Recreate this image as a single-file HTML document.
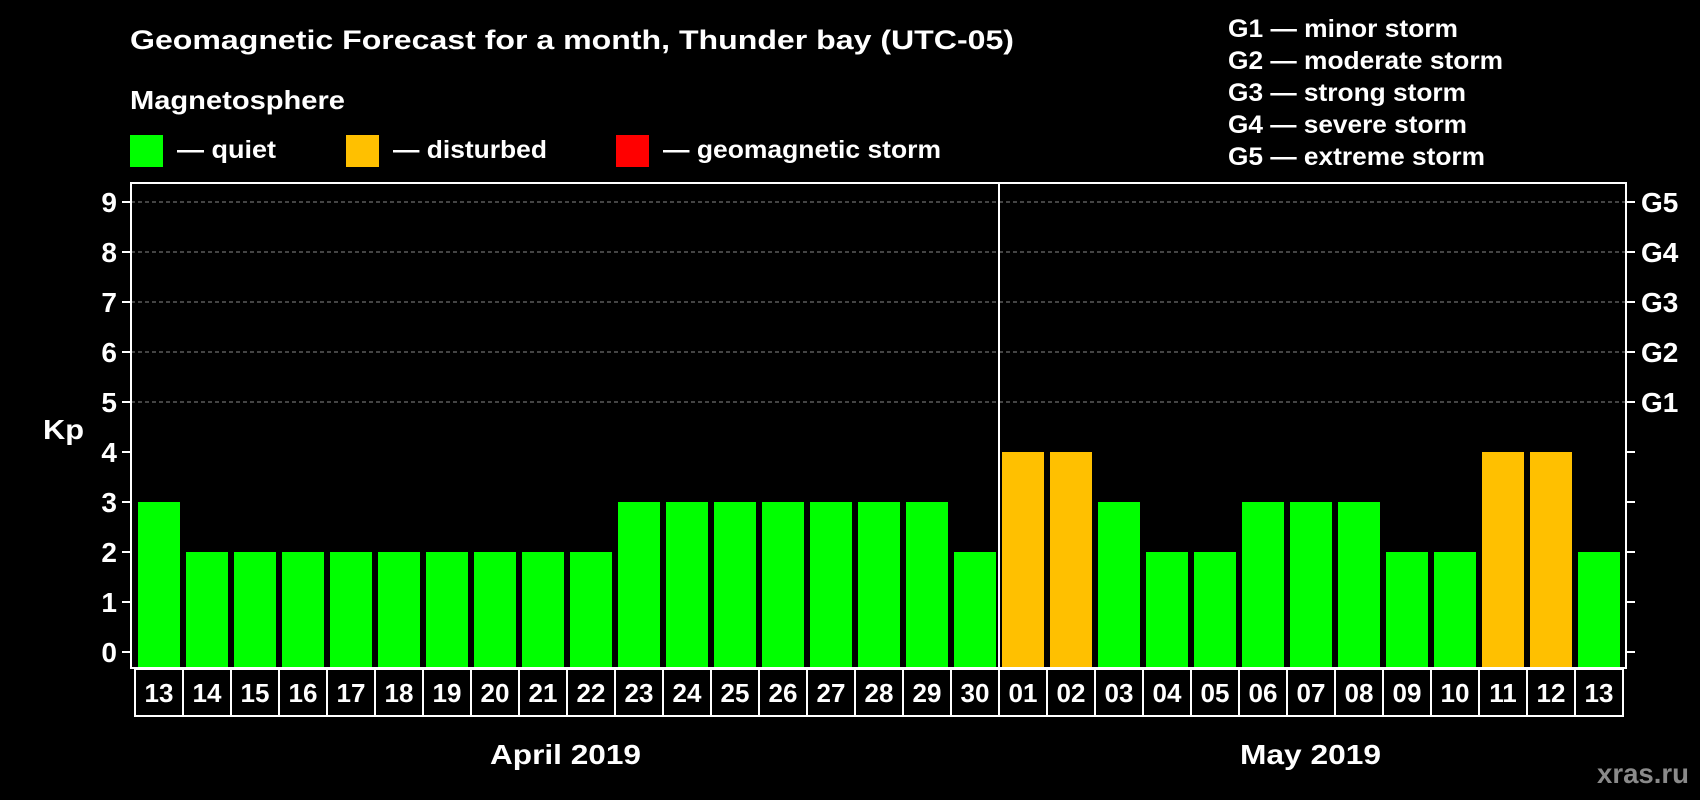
<!DOCTYPE html>
<html><head><meta charset="utf-8"><style>
html,body{margin:0;padding:0;background:#000;}
svg{display:block;font-family:"Liberation Sans",Arial,sans-serif;font-weight:bold;}
</style></head><body>
<svg id="chart" width="1700" height="800" viewBox="0 0 1700 800" xmlns="http://www.w3.org/2000/svg">
<rect x="0" y="0" width="1700" height="800" fill="#000"/>
<text x="130" y="49" fill="#fff" font-size="27" textLength="884" lengthAdjust="spacingAndGlyphs">Geomagnetic Forecast for a month, Thunder bay (UTC-05)</text>
<text x="130" y="109" fill="#fff" font-size="26" textLength="215" lengthAdjust="spacingAndGlyphs">Magnetosphere</text>
<g>
<rect x="130" y="135" width="33" height="32" fill="#00ff00"/>
<text x="177" y="158" fill="#fff" font-size="25" textLength="99" lengthAdjust="spacingAndGlyphs">— quiet</text></g>
<g>
<rect x="346" y="135" width="33" height="32" fill="#ffc000"/>
<text x="393" y="158" fill="#fff" font-size="25" textLength="154" lengthAdjust="spacingAndGlyphs">— disturbed</text></g>
<g>
<rect x="616" y="135" width="33" height="32" fill="#ff0000"/>
<text x="663" y="158" fill="#fff" font-size="25" textLength="278" lengthAdjust="spacingAndGlyphs">— geomagnetic storm</text></g>
<g fill="#fff" font-size="25">
<text x="1228" y="37" textLength="230" lengthAdjust="spacingAndGlyphs">G1 — minor storm</text>
<text x="1228" y="69" textLength="275" lengthAdjust="spacingAndGlyphs">G2 — moderate storm</text>
<text x="1228" y="101" textLength="238" lengthAdjust="spacingAndGlyphs">G3 — strong storm</text>
<text x="1228" y="133" textLength="239" lengthAdjust="spacingAndGlyphs">G4 — severe storm</text>
<text x="1228" y="165" textLength="257" lengthAdjust="spacingAndGlyphs">G5 — extreme storm</text>
</g>
<text x="43" y="439" fill="#fff" font-size="28" textLength="41" lengthAdjust="spacingAndGlyphs">Kp</text>
<text x="490" y="764" fill="#fff" font-size="28" textLength="151" lengthAdjust="spacingAndGlyphs">April 2019</text>
<text x="1240" y="764" fill="#fff" font-size="28" textLength="141" lengthAdjust="spacingAndGlyphs">May 2019</text>
<text x="1597" y="783" fill="#8a8a8a" font-size="28" textLength="92" lengthAdjust="spacingAndGlyphs">xras.ru</text>
<g id="plot"></g>
</svg>
<script>
const days = ["13","14","15","16","17","18","19","20","21","22","23","24","25","26","27","28","29","30","01","02","03","04","05","06","07","08","09","10","11","12","13"];
const kpValues = [3,2,2,2,2,2,2,2,2,2,3,3,3,3,3,3,3,2,4,4,3,2,2,3,3,3,2,2,4,4,2];
const yTicks = [0,1,2,3,4,5,6,7,8,9];
const gLabels = ["G1","G2","G3","G4","G5"];
const gLevels = [5,6,7,8,9];
const monthBreakIndex = 18;

(function(){
const NS = "http://www.w3.org/2000/svg";
const plot = document.getElementById("plot");
const pLeft = 131, pRight = 1626, pTop = 183, pBottom = 668;
const x0 = 138, pitch = 48, barW = 42;
function xScale(i){ return x0 + i*pitch; }
function yScale(v){ return 652 - v*50; }
function colorFor(v){ return v >= 5 ? "#ff0000" : (v >= 4 ? "#ffc000" : "#00ff00"); }
function mk(tag, attrs){ const e = document.createElementNS(NS, tag); for (const k in attrs) e.setAttribute(k, attrs[k]); plot.appendChild(e); return e; }

yTicks.forEach(t => {
  const y = yScale(t);
  if (t >= 5) {
    const g = mk("line", {x1:pLeft, x2:pRight, y1:y, y2:y, stroke:"#888", "stroke-width":1, "stroke-dasharray":"4,3"});
    
    
  }
  const tl = mk("line", {x1:122, x2:pLeft, y1:y, y2:y, stroke:"#fff", "stroke-width":2});
  
  
  const tr = mk("line", {x1:pRight, x2:pRight+9, y1:y, y2:y, stroke:"#fff", "stroke-width":2});
  
  
  const lb = mk("text", {x:117, y:y+10, fill:"#fff", "font-size":28, "text-anchor":"end"});
  lb.textContent = t;
  
  
});
gLabels.forEach((g, i) => {
  const lb = mk("text", {x:1641, y:yScale(gLevels[i])+10, fill:"#fff", "font-size":28});
  lb.textContent = g;
  
  
});
kpValues.forEach((v, i) => {
  const b = mk("rect", {x:xScale(i), y:yScale(v), width:barW, height:yScale(0)+16-yScale(v), fill:colorFor(v)});
  
  
});
const frame = mk("rect", {x:pLeft, y:pTop, width:pRight-pLeft, height:pBottom-pTop, fill:"none", stroke:"#fff", "stroke-width":2});


const sep = mk("line", {x1:xScale(monthBreakIndex)-3, x2:xScale(monthBreakIndex)-3, y1:pTop, y2:pBottom, stroke:"#fff", "stroke-width":2});


days.forEach((d, i) => {
  const bx = xScale(i) - 3;
  const box = mk("rect", {x:bx, y:pBottom+1, width:pitch, height:47, fill:"none", stroke:"#fff", "stroke-width":2});
  
  
  const t = mk("text", {x:bx+pitch/2, y:pBottom+34, fill:"#fff", "font-size":26, "text-anchor":"middle"});
  t.textContent = d;
  
  
});
})();
</script>
</body></html>
